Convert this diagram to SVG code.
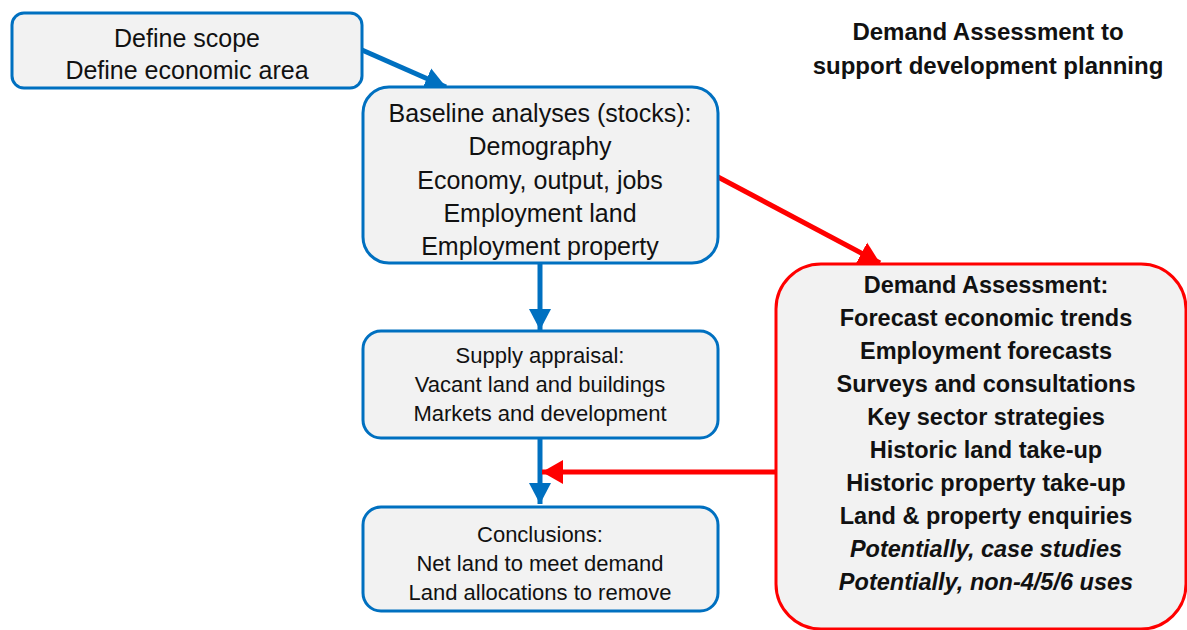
<svg xmlns="http://www.w3.org/2000/svg" width="1187" height="630" viewBox="0 0 1187 630">
<style>
.bx{fill:#f2f2f2;stroke:#0070c0;stroke-width:3}
.rbx{fill:#f2f2f2;stroke:#ff0000;stroke-width:3}
.t{font-family:"Liberation Sans",Arial,sans-serif;fill:#111;text-anchor:middle}
.n{font-size:25px}
.s{font-size:22px}
.b{font-size:23.5px;font-weight:bold}
.h{font-size:24px;font-weight:bold}
.bl{stroke:#0070c0;stroke-width:5;fill:none}
.rd{stroke:#ff0000;stroke-width:5;fill:none}
</style>
<defs>
<marker id="ab" markerUnits="userSpaceOnUse" markerWidth="26" markerHeight="26" viewBox="0 0 26 26" refX="21" refY="13" orient="auto"><path d="M0,2 L21,13 L0,24 Z" fill="#0070c0"/></marker>
<marker id="ar" markerUnits="userSpaceOnUse" markerWidth="26" markerHeight="26" viewBox="0 0 26 26" refX="21" refY="13" orient="auto"><path d="M0,1 L21,13 L0,25 Z" fill="#ff0000"/></marker>
</defs>
<rect width="1187" height="630" fill="#fff"/>
<g id="title">
<text class="t h" x="988" y="40">Demand Assessment to</text>
<text class="t h" x="988" y="74">support development planning</text>
</g>
<g id="connectors">
<line class="bl" x1="362" y1="50" x2="446" y2="87" marker-end="url(#ab)"/>
<line class="bl" x1="540" y1="264" x2="540" y2="330" marker-end="url(#ab)"/>
<line class="bl" x1="540" y1="438" x2="540" y2="504" marker-end="url(#ab)"/>
<line class="rd" x1="718" y1="177" x2="880" y2="263" marker-end="url(#ar)"/>
<line class="rd" x1="776" y1="472" x2="542" y2="472" marker-end="url(#ar)"/>
</g>
<g id="define-scope">
<rect class="bx" x="12" y="13" width="350" height="75" rx="12"/>
<text class="t n" x="187" y="47">Define scope</text>
<text class="t n" x="187" y="79">Define economic area</text>
</g>
<g id="baseline">
<rect class="bx" x="363" y="87" width="355" height="176" rx="26"/>
<text class="t n" x="540" y="122">Baseline analyses (stocks):</text>
<text class="t n" x="540" y="155">Demography</text>
<text class="t n" x="540" y="189">Economy, output, jobs</text>
<text class="t n" x="540" y="222">Employment land</text>
<text class="t n" x="540" y="255">Employment property</text>
</g>
<g id="supply">
<rect class="bx" x="363" y="331" width="355" height="107" rx="18"/>
<text class="t s" x="540" y="363">Supply appraisal:</text>
<text class="t s" x="540" y="392">Vacant land and buildings</text>
<text class="t s" x="540" y="421">Markets and development</text>
</g>
<g id="conclusions">
<rect class="bx" x="363" y="507" width="355" height="104" rx="18"/>
<text class="t s" x="540" y="542">Conclusions:</text>
<text class="t s" x="540" y="571">Net land to meet demand</text>
<text class="t s" x="540" y="600">Land allocations to remove</text>
</g>
<g id="demand">
<rect class="rbx" x="776" y="264" width="410" height="365" rx="45"/>
<text class="t b" x="986" y="293">Demand Assessment:</text>
<text class="t b" x="986" y="326">Forecast economic trends</text>
<text class="t b" x="986" y="359">Employment forecasts</text>
<text class="t b" x="986" y="392">Surveys and consultations</text>
<text class="t b" x="986" y="425">Key sector strategies</text>
<text class="t b" x="986" y="458">Historic land take-up</text>
<text class="t b" x="986" y="491">Historic property take-up</text>
<text class="t b" x="986" y="524">Land &amp; property enquiries</text>
<text class="t b" x="986" y="557" font-style="italic">Potentially, case studies</text>
<text class="t b" x="986" y="590" font-style="italic">Potentially, non-4/5/6 uses</text>
</g>
</svg>
